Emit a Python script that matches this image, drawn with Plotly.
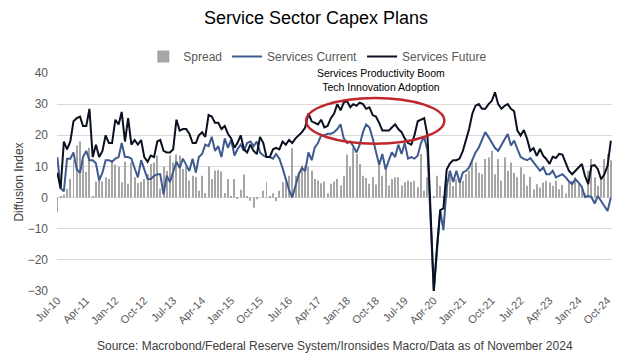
import pandas as pd
import plotly.graph_objects as go

start_month = "2010-07-01"

services_future = [
    8, 3, 18, 15.5, 18, 24.5, 25.5, 26, 23, 23, 28.5, 13, 17, 13, 15, 20, 17.5, 17.5, 25, 23.5,
    27.5, 18, 25.5, 17, 18.5, 17, 18.5, 13, 11.5, 13.5, 13, 18, 18.5, 15, 14.5, 14.5, 15.5, 25, 21.5, 22,
    22, 20.5, 17.5, 17.5, 20, 21, 19.5, 26.5, 26, 24, 24, 22, 23, 20.5, 19, 16, 17.5, 20, 15.5, 14.5,
    17, 15, 14, 19.5, 17.5, 13, 13, 15.5, 16, 15.5, 18, 17, 18.5, 17.5, 19, 20, 21, 22.5, 27, 24.5,
    24, 23.5, 25, 22.5, 23, 25.5, 27, 30, 28, 30.5, 31, 29, 30, 29.5, 30.5, 30, 28.5, 29, 26.5, 26,
    24, 21.5, 21.5, 21.5, 22.5, 23.5, 22, 21, 19, 17.5, 17, 20, 24.5, 25, 25.5, 20, -4, -30, -16, -4,
    -3.5, 9, 11, 12, 12, 12.5, 15, 18.5, 22, 27, 29.5, 30, 28.5, 28.5, 30, 31, 33.8, 30, 28.5, 29.5,
    30, 28.5, 27.7, 21.5, 19.9, 21.7, 18.8, 15, 15.9, 13.4, 15.6, 13.4, 12.4, 10.8, 13.1, 12.7, 14, 13.8, 11.3, 8.6,
    7.5, 8.6, 9.9, 10.8, 7, 4.3, 10.2, 10.4, 9.1, 5.9, 7.5, 10.2, 18.3,
]

services_current = [
    13, 3, 2, 12.5, 12.5, 14.5, 9, 8, 13, 15, 12, 12, 11, 5.5, 8, 12, 12, 11.5, 12.5, 13,
    17.5, 13, 13, 12.5, 9.5, 6.5, 12, 9, 6, 6, 7, 7.5, 7.5, 1, 7, 5, 8, 11.5, 9.5, 12.5,
    10.5, 8.5, 12.5, 8, 13, 14, 17, 16.5, 19.5, 15, 16.5, 13, 19, 16, 18.5, 13.5, 15.5, 17, 15, 17.5,
    18, 16.5, 18, 14.5, 13.5, 13, 13, 12.5, 14, 12.5, 9.5, 6, 2.5, 0, 4, 7.5, 9.5, 8.5, 14.5, 12,
    16, 17.5, 20, 20, 20.5, 20.5, 21, 22, 23.5, 19, 17.5, 18, 16.5, 14.5, 17, 21, 23.5, 22.5, 19, 15,
    10.5, 14, 9, 12, 14.5, 13, 17, 14, 17.5, 12.5, 13, 12.5, 13.5, 17.5, 19.5, 15, -8, -30, -17, -4,
    -10.5, 3.5, 8.6, 5, 8.6, 4.8, 8.1, 8.6, 9.7, 12.4, 14.5, 16.1, 18.3, 21, 19.4, 17.7, 15.9, 15, 16.7, 18.5,
    20.4, 16.7, 18.3, 15.6, 13.1, 12.4, 12, 12.7, 11.3, 10.2, 8.6, 9.7, 7.5, 7.5, 8.6, 6.5, 7, 7.5, 6.5, 5.2,
    4.3, 5.9, 4.8, 3.4, 0.2, 0.5, 0.2, -1.9, 0.5, -1.1, -2.7, -4.3, 0,
]

spread = [
    -4.7, 0.3, 1, 2.8, 6, 12, 16.7, 18, 12, 8.2, 16, 0.3, 5.2, 7, 5.2, 6.5, 6, 12, 10.6, 10,
    4.9, 11.5, 4.4, 11.3, 6.5, 4.6, 5, 6, 7.6, 10.8, 11.3, 13.5, 2.8, 10, 8.5, 13.5, 11.3, 13.8, 13.5, 9.2,
    10, 5.5, 7, 6.5, 2.2, 7, 1.5, 10, 6, 8.7, 8.8, 8.4, 1.5, 6, 0.3, 6, -0.4, 2.5, 7.4, 0.2,
    -1, -3.3, -0.5, 0, 2.2, 4.9, 0.6, 1.4, -1.2, 2.2, 4.9, 4.9, 7, 15.8, 7, 8, 10.3, 10.3, 10, 8.7,
    6, 5.5, 4.6, 5.2, 1.4, 4.4, 5.2, 6, 3.9, 7, 13.8, 10, 15.9, 14, 10.8, 7, 6.3, 4.4, 6.5, 4.2,
    12, 7, 10, 3.9, 6, 6.5, 6.5, 3.9, 4.9, 5.5, 5, 5.4, 3.3, 14, 2.2, 6.5, 1, 0.5, 7, 3.7,
    0.5, 6, 7.5, 3.7, 5.9, 5.9, 5.4, 7.5, 8.6, 11.8, 11.3, 8, 7.5, 12.4, 12.9, 15, 7.5, 12.4, 5.4, 12.9,
    8.6, 11.3, 8, 6.5, 9.7, 7.5, 3.8, 6.7, 2.7, 4.3, 3.2, 4.8, 5.4, 4.8, 3.8, 5.4, 2.7, 4, 1.3, 4.8,
    5.4, 6.5, 4.3, 3.2, 1.3, 8.6, 12.4, 6.5, 3.8, 6.7, 12.4, 14, 12,
]

tick_labels = ["Jul-10", "Apr-11", "Jan-12", "Oct-12", "Jul-13", "Apr-14", "Jan-15", "Oct-15",
               "Jul-16", "Apr-17", "Jan-18", "Oct-18", "Jul-19", "Apr-20", "Jan-21", "Oct-21",
               "Jul-22", "Apr-23", "Jan-24", "Oct-24"]

months = pd.date_range(start_month, periods=len(services_future), freq="MS")
tick_vals = [pd.to_datetime(t, format="%b-%y") for t in tick_labels]

GRAY_TXT = "#595959"
FONT = "Liberation Sans, Arial, sans-serif"

fig = go.Figure()
fig.add_trace(go.Bar(x=months, y=spread, name="Spread", marker=dict(color="#a6a6a6", line=dict(width=0))))
fig.add_trace(go.Scatter(x=months, y=services_current, name="Services Current", mode="lines",
                         line=dict(color="#3e5a8e", width=2)))
fig.add_trace(go.Scatter(x=months, y=services_future, name="Services Future", mode="lines",
                         line=dict(color="#0b1020", width=2)))

fig.add_shape(type="circle", xref="x", yref="y", x0="2016-12-10", x1="2020-07-10", y0=17.3, y1=32,
              line=dict(color="#c0272d", width=2.5), fillcolor="rgba(0,0,0,0)")
fig.add_annotation(x="2018-11-20", y=37.6, xref="x", yref="y", showarrow=False,
                   text="Services Productivity Boom<br>Tech Innovation Adoption",
                   font=dict(size=10.5, color="#000000", family=FONT), align="center")
fig.add_annotation(x=0.5, y=-0.252, xref="paper", yref="paper", showarrow=False,
                   text="Source: Macrobond/Federal Reserve System/Ironsides Macro/Data as of November 2024",
                   font=dict(size=12, color="#404040", family=FONT), yanchor="middle")

fig.update_layout(
    width=622, height=354,
    margin=dict(l=57, r=10, t=73, b=63),
    paper_bgcolor="white", plot_bgcolor="white",
    font=dict(family=FONT, color=GRAY_TXT),
    title=dict(text="Service Sector Capex Plans", x=0.508, xanchor="center", y=0.949, yanchor="middle",
               font=dict(size=18, color="#000000", family=FONT)),
    legend=dict(orientation="h", x=0.47, xanchor="center", y=1.076, yanchor="middle",
                font=dict(size=12, color=GRAY_TXT), traceorder="normal", bgcolor="rgba(0,0,0,0)"),
    bargap=0.68,
    showlegend=True,
)
fig.update_xaxes(type="date", range=["2010-06-28", "2024-11-12"], tickvals=tick_vals, ticktext=tick_labels,
                 tickangle=-45, tickfont=dict(size=11, color=GRAY_TXT), showgrid=False, zeroline=False,
                 showline=False, ticks="")
fig.update_yaxes(range=[-30, 40], dtick=10, gridcolor="#d9d9d9", gridwidth=1, zeroline=False,
                 tickfont=dict(size=12, color=GRAY_TXT), ticklabelstandoff=8,
                 title=dict(text="Diffusion Index", font=dict(size=12, color="#404040"), standoff=1))

fig.write_html("out.html")
